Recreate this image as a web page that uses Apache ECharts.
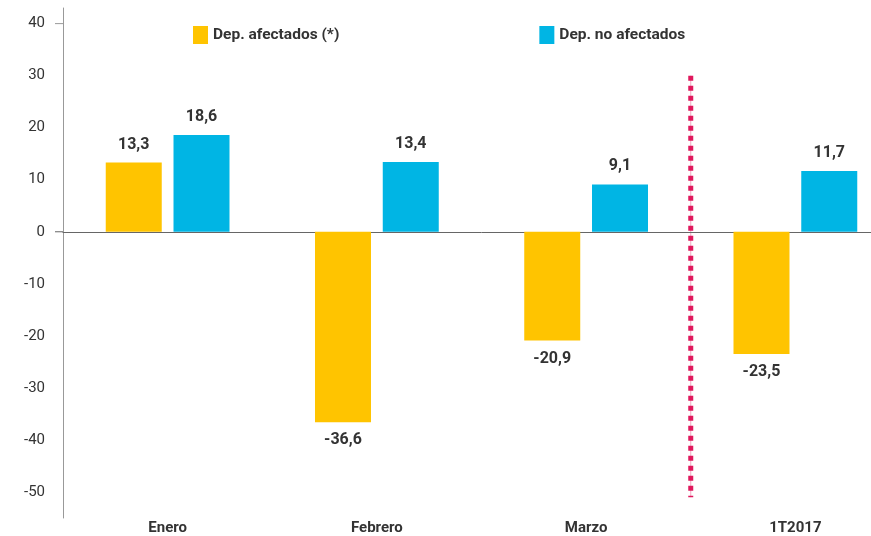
<!DOCTYPE html>
<html>
<head>
<meta charset="utf-8">
<script src="https://cdn.jsdelivr.net/npm/echarts@6/dist/echarts.min.js"></script>
<style>
  html, body { margin: 0; padding: 0; background: #fff; overflow: hidden; }
  /* the plot area runs a little past the right edge of the picture */
  #main { width: 900px; height: 536px; }
</style>
</head>
<body>
<div id="main"></div>
<script>
var categories = ["Enero", "Febrero", "Marzo", "1T2017"];
var afectados = [13.3, -36.6, -20.9, -23.5];
var noAfectados = [18.6, 13.4, 9.1, 11.7];
var seriesNames = ["Dep. afectados (*)", "Dep. no afectados"];
var colors = ["#ffc400", "#00b5e4"];

var chart = echarts.init(document.getElementById("main"));
var txt = "#333333";
var fontFam = "Roboto, 'Noto Sans', sans-serif";

function fmt(p) {
    return String(p.value).replace(".", ",");
}

function barSeries(name, data, color) {
    return {
        name: name,
        type: "bar",
        barWidth: 56,
        barGap: "21%",
        itemStyle: { color: color },
        data: data.map(function (v) {
            return {
                value: v,
                label: { position: v >= 0 ? "top" : "bottom" }
            };
        }),
        label: {
            show: true,
            distance: 10,
            formatter: fmt,
            color: txt,
            fontFamily: fontFam,
            fontWeight: "bold",
            fontSize: 16
        }
    };
}

var option = {
    animation: false,
    legend: {
        data: seriesNames,
        left: 188,
        top: 21,
        itemWidth: 15,
        itemHeight: 18,
        itemGap: 200,
        icon: "rect",
        textStyle: { color: txt, fontFamily: fontFam, fontWeight: "bold", fontSize: 15.5 }
    },
    grid: { left: 63, top: 8, bottom: 16, right: 0 },
    xAxis: [{
        type: "category",
        data: categories,
        axisLine: { onZero: true, lineStyle: { color: "#666", width: 1 } },
        axisTick: { show: false },
        axisLabel: { show: false }
    }, {
        type: "category",
        data: categories,
        position: "bottom",
        axisLine: { show: false, onZero: false },
        axisTick: { show: false },
        axisLabel: {
            margin: 3,
            color: txt,
            fontFamily: fontFam,
            fontWeight: "bold",
            fontSize: 15
        }
    }],
    yAxis: {
        type: "value",
        min: -55,
        max: 43,
        interval: 1,
        splitLine: { show: false },
        axisTick: { show: false },
        axisLine: { show: true, lineStyle: { color: "#999" } },
        axisLabel: {
            margin: 18,
            color: txt,
            fontFamily: fontFam,
            fontSize: 15,
            formatter: function (v) {
                return v % 10 === 0 ? String(v) : "";
            }
        }
    },
    series: [
        barSeries(seriesNames[0], afectados, colors[0]),
        barSeries(seriesNames[1], noAfectados, colors[1])
    ]
};
chart.setOption(option);

// separator between months and quarter, plus small ticks
var xm = (chart.convertToPixel({ xAxisIndex: 0 }, categories[2]) +
          chart.convertToPixel({ xAxisIndex: 0 }, categories[3])) / 2;
var yTop = chart.convertToPixel({ yAxisIndex: 0 }, 30);
var yBot = chart.convertToPixel({ yAxisIndex: 0 }, -51);
var y40 = chart.convertToPixel({ yAxisIndex: 0 }, 40);
var y0 = chart.convertToPixel({ yAxisIndex: 0 }, 0);
chart.setOption({
    graphic: [
        { type: "line", shape: { x1: xm, y1: yTop, x2: xm, y2: yBot },
          style: { stroke: "#f0a8c0", lineWidth: 1 } },
        { type: "line", shape: { x1: xm, y1: yTop, x2: xm, y2: yBot },
          style: { stroke: "#e0185c", lineWidth: 5, lineDash: [5, 5] } },
        { type: "line", shape: { x1: 55, y1: y40, x2: 63, y2: y40 },
          style: { stroke: "#999", lineWidth: 1 } },
        { type: "line", shape: { x1: 55, y1: y0, x2: 63, y2: y0 },
          style: { stroke: "#666", lineWidth: 1 } }
    ]
});
</script>
</body>
</html>
